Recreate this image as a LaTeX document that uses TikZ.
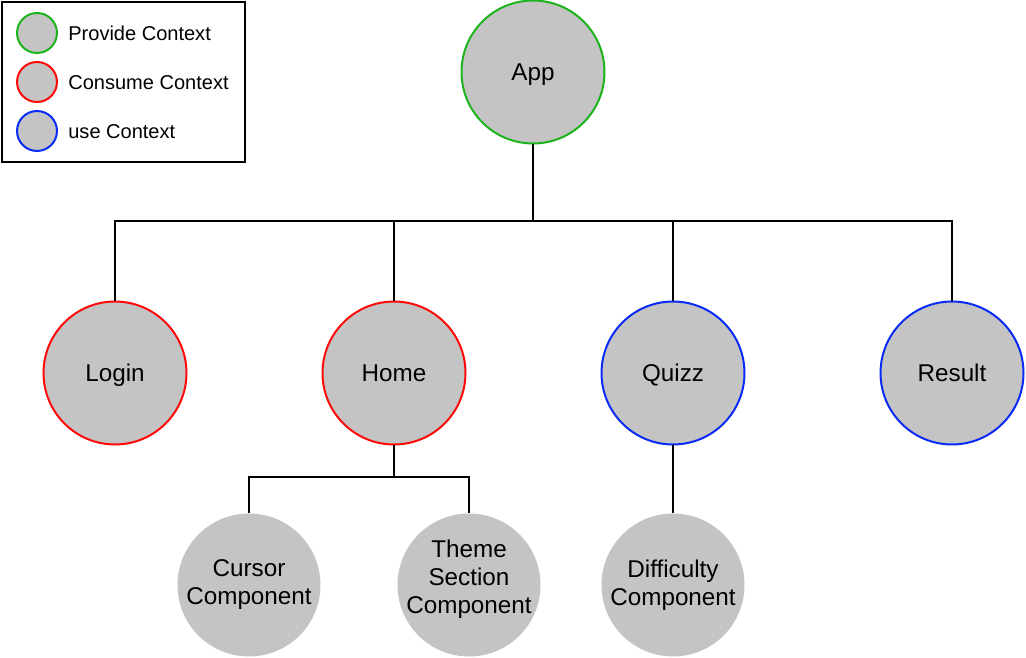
\documentclass[tikz,border=0pt]{standalone}
\usepackage{fontspec}
\setmainfont{Liberation Sans}
\usetikzlibrary{positioning}
\definecolor{nodegray}{HTML}{C4C4C4}
\definecolor{provgreen}{HTML}{1DB31D}
\definecolor{consred}{HTML}{FF0A0A}
\definecolor{useblue}{HTML}{0A2AF5}

\begin{document}
\begin{tikzpicture}[x=0.02cm, y=-0.02cm,
    comp/.style={circle, fill=nodegray, minimum size=2.86cm, inner sep=-6pt, align=center, font=\fontsize{13.8}{15.9}\selectfont},
    oneline/.style={text height=9.9pt, text depth=0pt},
    legcirc/.style={circle, fill=nodegray, minimum size=0.8cm, inner sep=0pt, line width=0.04cm},
    legtext/.style={anchor=west, inner sep=0pt, text height=8.2pt, text depth=0pt, font=\fontsize{11.4}{13}\selectfont},
    link/.style={line width=0.04cm}]

  \useasboundingbox (0,0) rectangle (1026,658);

  % Legend
  \node[draw, line width=0.04cm, minimum width=4.86cm, minimum height=3.2cm, anchor=north west] (legend) at (1,1) {};
  \node[legcirc, draw=provgreen] (lprov) at (37,33) {};
  \node[legcirc, draw=consred] (lcons) at (37,82) {};
  \node[legcirc, draw=useblue] (luse) at (37,131) {};
  \node[legtext] (tprov) at (68,33) {Provide Context};
  \node[legtext] (tcons) at (68,82) {Consume Context};
  \node[legtext] (tuse) at (68,131) {use Context};

  % Top level
  \node[comp, oneline, draw=provgreen, line width=0.04cm] (app) at (533,72) {App};

  % Second row
  \node[comp, oneline, draw=consred, line width=0.04cm] (login) at (115,373) {Login};
  \node[comp, oneline, draw=consred, line width=0.04cm] (home) at (394,373) {Home};
  \node[comp, oneline, draw=useblue, line width=0.04cm] (quizz) at (673,373) {Quizz};
  \node[comp, oneline, draw=useblue, line width=0.04cm] (result) at (952,373) {Result};

  % Third row
  \node[comp] (cursor) at (249,585) {Cursor\\Component};
  \node[comp, text depth=9pt] (theme) at (469,585) {Theme\\Section\\Component};
  \node[comp] (difficulty) at (673,585) {Difficulty\\Component};

  % Connectors
  \coordinate (appfork) at (533,221);
  \coordinate (homefork) at (394,477);

  \draw[link] (app) -- (appfork);
  \draw[link] (appfork) -| (login);
  \draw[link] (appfork) -| (home);
  \draw[link] (appfork) -| (quizz);
  \draw[link] (appfork) -| (result);

  \draw[link] (home) -- (homefork);
  \draw[link] (homefork) -| (cursor);
  \draw[link] (homefork) -| (theme);

  \draw[link] (quizz) -- (difficulty);
\end{tikzpicture}
\end{document}
